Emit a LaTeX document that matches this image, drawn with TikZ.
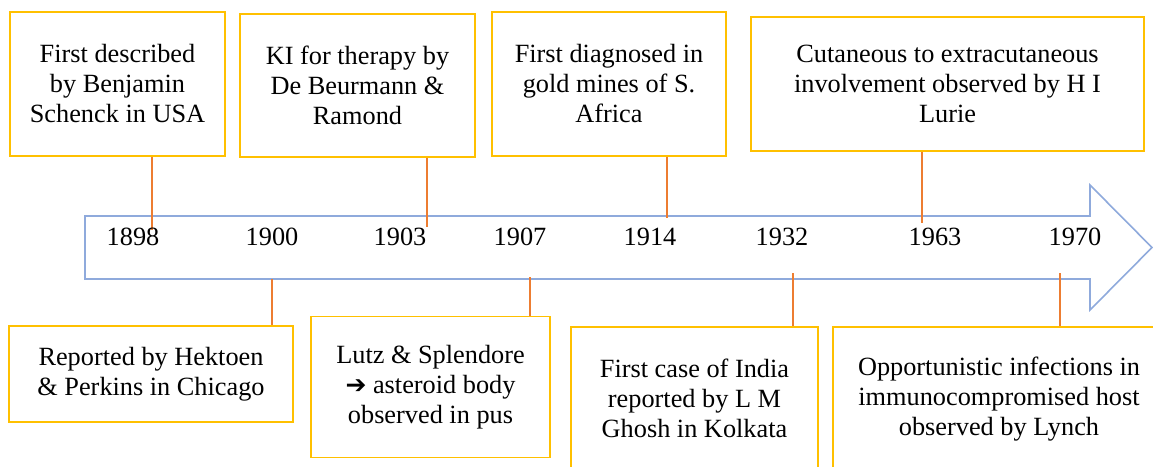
\documentclass[tikz,border=0pt]{standalone}
\usepackage{fontspec}
\setmainfont{Liberation Serif}
\newfontfamily\symfnt{DejaVu Sans}
\definecolor{boxgold}{HTML}{FFC000}
\definecolor{linkorange}{HTML}{ED7D31}
\definecolor{arrowblue}{HTML}{8FAADC}
\begin{document}
\begin{tikzpicture}[x=1pt,y=-1pt,
  evbox/.style={draw=boxgold,line width=1.6pt,fill=white,align=center,inner sep=0pt,
    font=\fontsize{26.3}{30}\selectfont},
  yearlbl/.style={inner sep=0pt,font=\fontsize{26.3}{30}\selectfont},
  link/.style={draw=linkorange,line width=1.2pt}]
\useasboundingbox (0,0) rectangle (1153,466);
\clip (0,0) rectangle (1153,466);
% timeline arrow
\draw[arrowblue,line width=1.6pt,fill=white,line join=miter]
  (85,216) -- (1090,216) -- (1090,185) -- (1152,247.5) -- (1090,310) -- (1090,279) -- (85,279) -- cycle;
% boxes
\node[evbox,minimum width=215,minimum height=144] (b1) at (117.5,84) {First described\\by Benjamin\\Schenck in USA};
\node[evbox,minimum width=235,minimum height=143] (b2) at (357.5,85.5) {KI for therapy by\\De Beurmann \&\\Ramond};
\node[evbox,minimum width=234,minimum height=144] (b3) at (609,84) {First diagnosed in\\gold mines of S.\\Africa};
\node[evbox,minimum width=393,minimum height=134] (b4) at (947.5,84) {Cutaneous to extracutaneous\\involvement observed by H I\\Lurie};
\node[evbox,minimum width=284,minimum height=96] (b5) at (151,374) {Reported by Hektoen\\\& Perkins in Chicago};
\node[evbox,minimum width=239,minimum height=141] (b6) at (430.5,387) {Lutz \& Splendore\\{\symfnt\bfseries\fontsize{25}{30}\selectfont ➔} asteroid body\\observed in pus};
\node[evbox,minimum width=247,minimum height=142] (b7) at (694.5,398) {First case of India\\reported by L M\\Ghosh in Kolkata};
\node[evbox,minimum width=332,minimum height=144] (b8) at (999,399) {Opportunistic infections in\\immunocompromised host\\observed by Lynch};
% connector ends on the arrow
\coordinate (c1) at (152,230);
\coordinate (c2) at (427,227);
\coordinate (c3) at (667,218);
\coordinate (c4) at (922,223);
\coordinate (c5) at (272,279);
\coordinate (c6) at (530,277);
\coordinate (c7) at (793,273);
\coordinate (c8) at (1060,273);
\draw[link] (c1 |- b1.south) -- (c1);
\draw[link] (c2 |- b2.south) -- (c2);
\draw[link] (c3 |- b3.south) -- (c3);
\draw[link] (c4 |- b4.south) -- (c4);
\draw[link] (c5) -- (c5 |- b5.north);
\draw[link] (c6) -- (c6 |- b6.north);
\draw[link] (c7) -- (c7 |- b7.north);
\draw[link] (c8) -- (c8 |- b8.north);
% years
\node[yearlbl] (y1) at (133,237) {1898};
\node[yearlbl] (y2) at (272,237) {1900};
\node[yearlbl] (y3) at (400,237) {1903};
\node[yearlbl] (y4) at (520,237) {1907};
\node[yearlbl] (y5) at (650,237) {1914};
\node[yearlbl] (y6) at (782,237) {1932};
\node[yearlbl] (y7) at (935,237) {1963};
\node[yearlbl] (y8) at (1075,237) {1970};
\end{tikzpicture}
\end{document}
